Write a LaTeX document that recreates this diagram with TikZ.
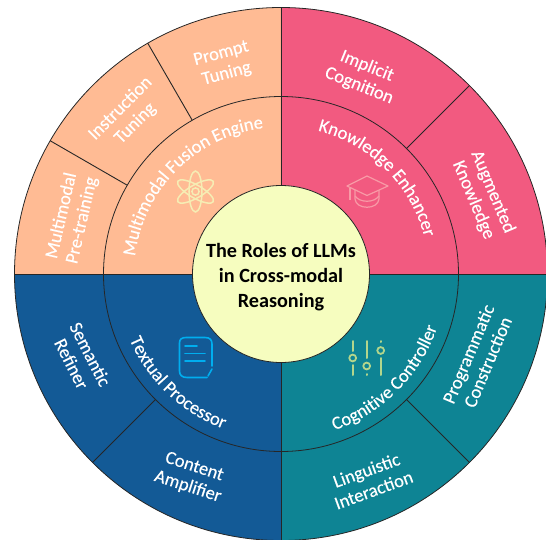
\documentclass[tikz,border=0pt]{standalone}
\usepackage{fontspec}
\setmainfont{Carlito}
\newfontfamily\labelfamily[FakeBold=0.25]{Carlito}
\usetikzlibrary{decorations.text}
\definecolor{peach}{HTML}{FFBB94}
\definecolor{rose}{HTML}{F25A80}
\definecolor{navy}{HTML}{135A96}
\definecolor{teal2}{HTML}{0E8494}
\definecolor{lemon}{HTML}{F6FDBF}
\definecolor{atomc}{HTML}{F6EDB4}
\definecolor{capc}{HTML}{F89AA6}
\definecolor{docc}{HTML}{00AEEF}
\definecolor{sliderc}{HTML}{B3D68C}
\newcommand{\labelfont}{\labelfamily\fontsize{18.5}{21}\selectfont}
\tikzset{
  x=1pt,y=1pt,
  ring/.style={draw=black!85,line width=0.8pt},
  divider/.style={draw=black!85,line width=0.9pt},
  sectorlabel/.style={text=white,align=center,font=\labelfont},
  curvedlabel/.style={decorate,decoration={text along path,text color=white,text align=center,text={|\labelfont|#1}}},
  atomline/.style={draw=atomc,line width=1.5pt},
  capline/.style={draw=capc,line width=1.2pt,line join=round},
  docline/.style={draw=docc,line width=1.6pt,line cap=round},
  sliderline/.style={draw=sliderc,line width=2pt,line cap=round},
  slidernob/.style={draw=sliderc,line width=1.8pt},
}
\begin{document}
\begin{tikzpicture}
\useasboundingbox (-281,-265) rectangle (265,274);
% quadrants
\fill[peach] (0,0) -- (-266.5,0) arc[start angle=180,end angle=90,radius=266.5] -- cycle;
\fill[rose] (0,0) -- (0,266.5) arc[start angle=90,end angle=0,radius=266.5] -- cycle;
\fill[teal2] (0,0) -- (266.5,0) arc[start angle=0,end angle=-90,radius=266.5] -- cycle;
\fill[navy] (0,0) -- (0,-266.5) arc[start angle=270,end angle=180,radius=266.5] -- cycle;
% rings and dividers
\draw[divider] (-266.5,0) -- (266.5,0);
\draw[divider] (0,-266.5) -- (0,266.5);
\foreach \a in {120,150,45,225,315}
  \draw[divider] (\a:177.5) -- (\a:266.5);
\draw[ring] (0,0) circle[radius=266.5];
\draw[ring] (0,0) circle[radius=177.5];
\filldraw[fill=lemon,draw=black!85,line width=0.8pt] (0,0) circle[radius=88.5];
% centre title
\node[align=center,font=\fontsize{20.2}{25}\bfseries\selectfont,text=black] (title) at (0,-3) {The Roles of LLMs\\in Cross-modal\\Reasoning};
% outer labels
\node[sectorlabel,rotate=15] (prompt) at (-57,210) {Prompt\\Tuning};
\node[sectorlabel,rotate=45] (instruction) at (-153,158) {Instruction\\Tuning};
\node[sectorlabel,rotate=77] (pretrain) at (-209,56) {Multimodal\\Pre-training};
\node[sectorlabel,rotate=-22] (implicit) at (82,198) {Implicit\\Cognition};
\node[sectorlabel,rotate=-67] (augmented) at (202,78) {Augmented\\Knowledge};
\node[sectorlabel,rotate=-63] (semantic) at (-200,-85) {Semantic\\Refiner};
\node[sectorlabel,rotate=-18] (content) at (-90,-203) {Content\\Amplifier};
\node[sectorlabel,rotate=20] (linguistic) at (89,-206) {Linguistic\\Interaction};
\node[sectorlabel,rotate=67] (programmatic) at (197,-84) {Programmatic\\Construction};
% curved labels
\path[curvedlabel={Multimodal Fusion Engine}] (180:147) arc[start angle=180,end angle=90,radius=147];
\path[curvedlabel={Knowledge Enhancer}] (90:148) arc[start angle=90,end angle=0,radius=148];
\path[curvedlabel={Textual Processor}] (181.5:165) arc[start angle=181.5,end angle=271.5,radius=165];
\path[curvedlabel={Cognitive Controller}] (270:165) arc[start angle=270,end angle=360,radius=165];
% icons, in the reference's pixel coordinates
\begin{scope}[shift={(-281,274)},yscale=-1]
  % atom
  \foreach \r in {0,60,120}
    \draw[atomline] (195.5,191.5) ellipse[x radius=6.5,y radius=20.5,rotate=\r];
  \draw[atomline] (195.5,191.5) circle[radius=3.6];
  % mortarboard
  \draw[capline] (367,176) -- (388,186) -- (367,195.5) -- (347,186) -- cycle;
  \draw[capline] (350,188) -- (350,200);
  \draw[capline] (355,190) -- (355,199) .. controls (356,210) and (378,210) .. (379,199) -- (379,190);
  \draw[capline] (355,196) .. controls (360,203) and (374,203) .. (379,196);
  % document
  \draw[docline] (207,377.5) -- (187,377.5)
    .. controls (182,377.5) and (179.5,375) .. (179.5,371) -- (179.5,343)
    .. controls (179.5,339) and (182,337.5) .. (186,337.5) -- (205,337.5)
    .. controls (210,337.5) and (212,340) .. (212,344) -- (212,366);
  \draw[docline] (212,369) -- (208,376);
  \draw[docline] (185,346) -- (197,346);
  \draw[docline] (185,353.5) -- (205,353.5);
  \draw[docline] (185,361) -- (205,361);
  % sliders
  \draw[sliderline] (352.7,341) -- (352.7,351);
  \draw[slidernob] (352.7,358) circle[radius=3.4];
  \draw[sliderline] (352.7,365) -- (352.7,375);
  \draw[sliderline] (366.7,341) -- (366.7,358);
  \draw[slidernob] (366.7,366) circle[radius=3.4];
  \draw[sliderline] (366.7,374) -- (366.7,375);
  \draw[sliderline] (380.7,341) -- (380.7,342);
  \draw[slidernob] (380.7,350.5) circle[radius=3.4];
  \draw[sliderline] (380.7,358) -- (380.7,375);
\end{scope}
\end{tikzpicture}
\end{document}
